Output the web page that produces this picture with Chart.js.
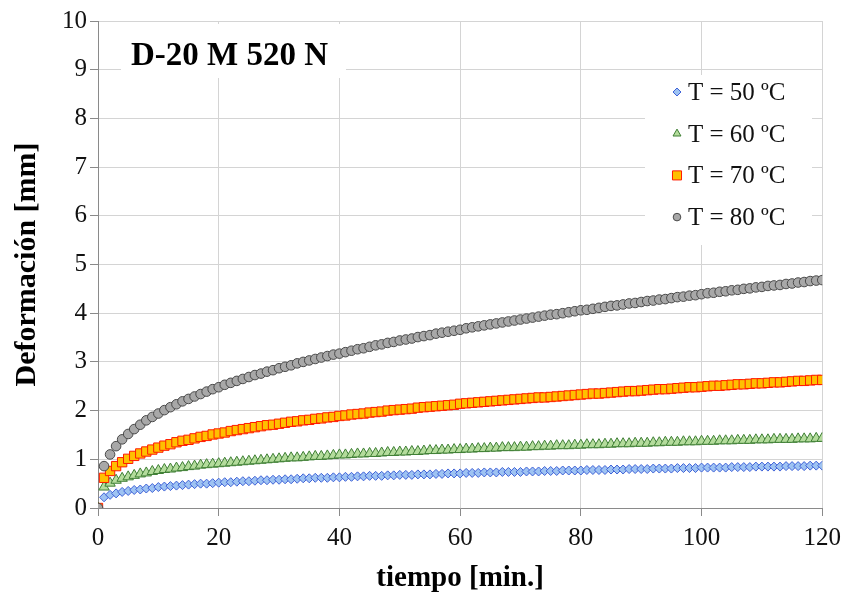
<!DOCTYPE html>
<html>
<head>
<meta charset="utf-8">
<script src="https://cdn.jsdelivr.net/npm/chart.js@4.4.0/dist/chart.umd.min.js"></script>
<style>
  html, body { margin: 0; padding: 0; background: #fff; }
  canvas { display: block; }
</style>
</head>
<body>
<canvas id="myChart" width="848" height="598"></canvas>
<script>
// tiempo [min.]
const tiempo = [0,1,2,3,4,5,6,7,8,9,10,11,12,13,14,15,16,17,18,19,20,
  21,22,23,24,25,26,27,28,29,30,31,32,33,34,35,36,37,38,39,40,
  41,42,43,44,45,46,47,48,49,50,51,52,53,54,55,56,57,58,59,60,
  61,62,63,64,65,66,67,68,69,70,71,72,73,74,75,76,77,78,79,80,
  81,82,83,84,85,86,87,88,89,90,91,92,93,94,95,96,97,98,99,100,
  101,102,103,104,105,106,107,108,109,110,111,112,113,114,115,116,117,118,119,120];

// Deformación [mm]
const t50 = [0, 0.22,0.27,0.30,0.33,0.35,0.37,0.38,0.40,0.41,0.43,
  0.44,0.45,0.46,0.47,0.48,0.49,0.50,0.50,0.51,0.52,
  0.53,0.53,0.54,0.55,0.55,0.56,0.57,0.57,0.58,0.58,
  0.59,0.59,0.60,0.61,0.61,0.62,0.62,0.62,0.63,0.63,
  0.64,0.64,0.65,0.65,0.66,0.66,0.66,0.67,0.67,0.68,
  0.68,0.68,0.69,0.69,0.69,0.70,0.70,0.71,0.71,0.71,
  0.72,0.72,0.72,0.73,0.73,0.73,0.74,0.74,0.74,0.74,
  0.75,0.75,0.75,0.76,0.76,0.76,0.77,0.77,0.77,0.77,
  0.78,0.78,0.78,0.78,0.79,0.79,0.79,0.80,0.80,0.80,
  0.80,0.81,0.81,0.81,0.81,0.82,0.82,0.82,0.82,0.83,
  0.83,0.83,0.83,0.83,0.84,0.84,0.84,0.84,0.85,0.85,
  0.85,0.85,0.85,0.86,0.86,0.86,0.86,0.87,0.87,0.87];

const t60 = [0, 0.43,0.51,0.57,0.61,0.64,0.67,0.70,0.72,0.75,0.77,
  0.79,0.80,0.82,0.83,0.85,0.86,0.88,0.89,0.90,0.91,
  0.92,0.93,0.94,0.95,0.96,0.97,0.98,0.99,1.00,1.01,
  1.02,1.03,1.03,1.04,1.05,1.06,1.06,1.07,1.08,1.09,
  1.09,1.10,1.11,1.11,1.12,1.12,1.13,1.14,1.14,1.15,
  1.15,1.16,1.16,1.17,1.18,1.18,1.19,1.19,1.20,1.20,
  1.21,1.21,1.22,1.22,1.23,1.23,1.24,1.24,1.24,1.25,
  1.25,1.26,1.26,1.27,1.27,1.28,1.28,1.28,1.29,1.29,
  1.30,1.30,1.30,1.31,1.31,1.32,1.32,1.32,1.33,1.33,
  1.33,1.34,1.34,1.35,1.35,1.35,1.36,1.36,1.36,1.37,
  1.37,1.37,1.38,1.38,1.38,1.39,1.39,1.39,1.40,1.40,
  1.40,1.41,1.41,1.41,1.41,1.42,1.42,1.42,1.43,1.43];

const t70 = [0, 0.62,0.76,0.86,0.94,1.01,1.07,1.12,1.16,1.20,1.24,
  1.28,1.31,1.35,1.38,1.40,1.43,1.46,1.48,1.51,1.53,
  1.55,1.58,1.60,1.62,1.64,1.66,1.68,1.70,1.71,1.73,
  1.75,1.77,1.78,1.80,1.81,1.83,1.84,1.86,1.87,1.89,
  1.90,1.92,1.93,1.94,1.96,1.97,1.98,2.00,2.01,2.02,
  2.03,2.04,2.06,2.07,2.08,2.09,2.10,2.11,2.12,2.14,
  2.15,2.16,2.17,2.18,2.19,2.20,2.21,2.22,2.23,2.24,
  2.25,2.26,2.27,2.27,2.28,2.29,2.30,2.31,2.32,2.33,
  2.34,2.35,2.35,2.36,2.37,2.38,2.39,2.40,2.40,2.41,
  2.42,2.43,2.44,2.44,2.45,2.46,2.47,2.48,2.48,2.49,
  2.50,2.51,2.51,2.52,2.53,2.54,2.54,2.55,2.56,2.56,
  2.57,2.58,2.58,2.59,2.60,2.61,2.61,2.62,2.63,2.63];

const t80 = [0, 0.86,1.10,1.27,1.41,1.52,1.62,1.71,1.80,1.87,1.94,
  2.01,2.07,2.13,2.19,2.24,2.29,2.34,2.39,2.44,2.48,
  2.53,2.57,2.61,2.65,2.69,2.73,2.76,2.80,2.83,2.87,
  2.90,2.93,2.97,3.00,3.03,3.06,3.09,3.12,3.15,3.17,
  3.20,3.23,3.26,3.28,3.31,3.34,3.36,3.39,3.41,3.44,
  3.46,3.48,3.51,3.53,3.55,3.58,3.60,3.62,3.64,3.66,
  3.69,3.71,3.73,3.75,3.77,3.79,3.81,3.83,3.85,3.87,
  3.89,3.91,3.93,3.95,3.97,3.98,4.00,4.02,4.04,4.06,
  4.07,4.09,4.11,4.13,4.15,4.16,4.18,4.20,4.21,4.23,
  4.25,4.26,4.28,4.29,4.31,4.33,4.34,4.36,4.37,4.39,
  4.41,4.42,4.44,4.45,4.47,4.48,4.50,4.51,4.53,4.54,
  4.56,4.57,4.58,4.60,4.61,4.63,4.64,4.66,4.67,4.68];

const seriesNames = ['T = 50 ºC', 'T = 60 ºC', 'T = 70 ºC', 'T = 80 ºC'];
const chartTitle = 'D-20 M 520 N';

const serif = "'Liberation Serif', 'Times New Roman', serif";

function pts(values) {
  return tiempo.map((t, i) => ({ x: t, y: values[i] }));
}

const styles = [
  { pointStyle: 'rectRot', radius: 4.5, bg: '#9ec3f2', border: '#3f62d8', legendR: 4 },
  { pointStyle: 'triangle', radius: 6, bg: '#b4dc9c', border: '#3f7f35', legendR: 4.6 },
  { pointStyle: 'rect', radius: 6.6, bg: '#ffc000', border: '#ff1a00', legendR: 6.4 },
  { pointStyle: 'circle', radius: 4.8, bg: '#a8a8a8', border: '#4a4a4a', legendR: 3.8 }
];

const allValues = [t50, t60, t70, t80];

const datasets = allValues.map((vals, i) => ({
  label: seriesNames[i],
  data: pts(vals),
  showLine: false,
  pointStyle: styles[i].pointStyle,
  pointRadius: styles[i].radius,
  pointBackgroundColor: styles[i].bg,
  pointBorderColor: styles[i].border,
  pointBorderWidth: 1,
  order: 3 - i
}));

const whiteBg = {
  id: 'whiteBg',
  beforeDraw(chart) {
    const ctx = chart.ctx;
    ctx.save();
    ctx.fillStyle = '#fff';
    ctx.fillRect(0, 0, chart.width, chart.height);
    ctx.restore();
  }
};

const boxes = {
  id: 'boxes',
  beforeDatasetsDraw(chart) {
    const ctx = chart.ctx;
    ctx.save();
    // chart title box
    ctx.fillStyle = '#fff';
    ctx.fillRect(121, 24, 225, 54);
    ctx.fillStyle = '#000';
    ctx.font = 'bold 33px ' + serif;
    ctx.textBaseline = 'alphabetic';
    ctx.textAlign = 'left';
    ctx.fillText(chartTitle, 131, 65);

    // legend box
    ctx.fillStyle = '#fff';
    ctx.fillRect(645, 75, 167, 170);
    ctx.font = '25px ' + serif;
    for (let i = 0; i < seriesNames.length; i++) {
      const base = 100 + i * 41.7;
      const s = styles[i];
      ctx.fillStyle = s.bg;
      ctx.strokeStyle = s.border;
      ctx.lineWidth = 1;
      Chart.helpers.drawPoint(ctx, { pointStyle: s.pointStyle, radius: s.legendR, borderWidth: 1, rotation: 0 }, 677, base - 8);
      ctx.fillStyle = '#111';
      ctx.fillText(seriesNames[i], 688, base);
    }
    ctx.restore();
  }
};

new Chart(document.getElementById('myChart').getContext('2d'), {
  type: 'scatter',
  data: { datasets: datasets },
  options: {
    responsive: false,
    animation: false,
    events: [],
    layout: { padding: { top: 21, right: 25, bottom: 0, left: 0 } },
    plugins: {
      legend: { display: false },
      title: { display: false },
      tooltip: { enabled: false }
    },
    scales: {
      x: {
        type: 'linear',
        min: 0,
        max: 120,
        afterFit: s => { s.height = 90; },
        ticks: {
          stepSize: 20,
          color: '#111',
          padding: 7,
          font: { family: serif, size: 25 }
        },
        grid: { color: '#d4d4d4', tickColor: '#8a8a8a', tickLength: 8 },
        border: { color: '#8a8a8a' },
        title: {
          display: true,
          text: 'tiempo [min.]',
          color: '#000',
          font: { family: serif, size: 29, weight: 'bold' },
          padding: { top: 0, bottom: 2 }
        }
      },
      y: {
        min: 0,
        max: 10,
        afterFit: s => { s.width = 98; },
        ticks: {
          stepSize: 1,
          color: '#111',
          padding: 3,
          font: { family: serif, size: 25 }
        },
        grid: { color: '#d4d4d4', tickColor: '#8a8a8a', tickLength: 8 },
        border: { color: '#8a8a8a' },
        title: {
          display: true,
          text: 'Deformación [mm]',
          color: '#000',
          font: { family: serif, size: 30, weight: 'bold' },
          padding: { top: 9, bottom: 0 }
        }
      }
    }
  },
  plugins: [whiteBg, boxes]
});
</script>
</body>
</html>
